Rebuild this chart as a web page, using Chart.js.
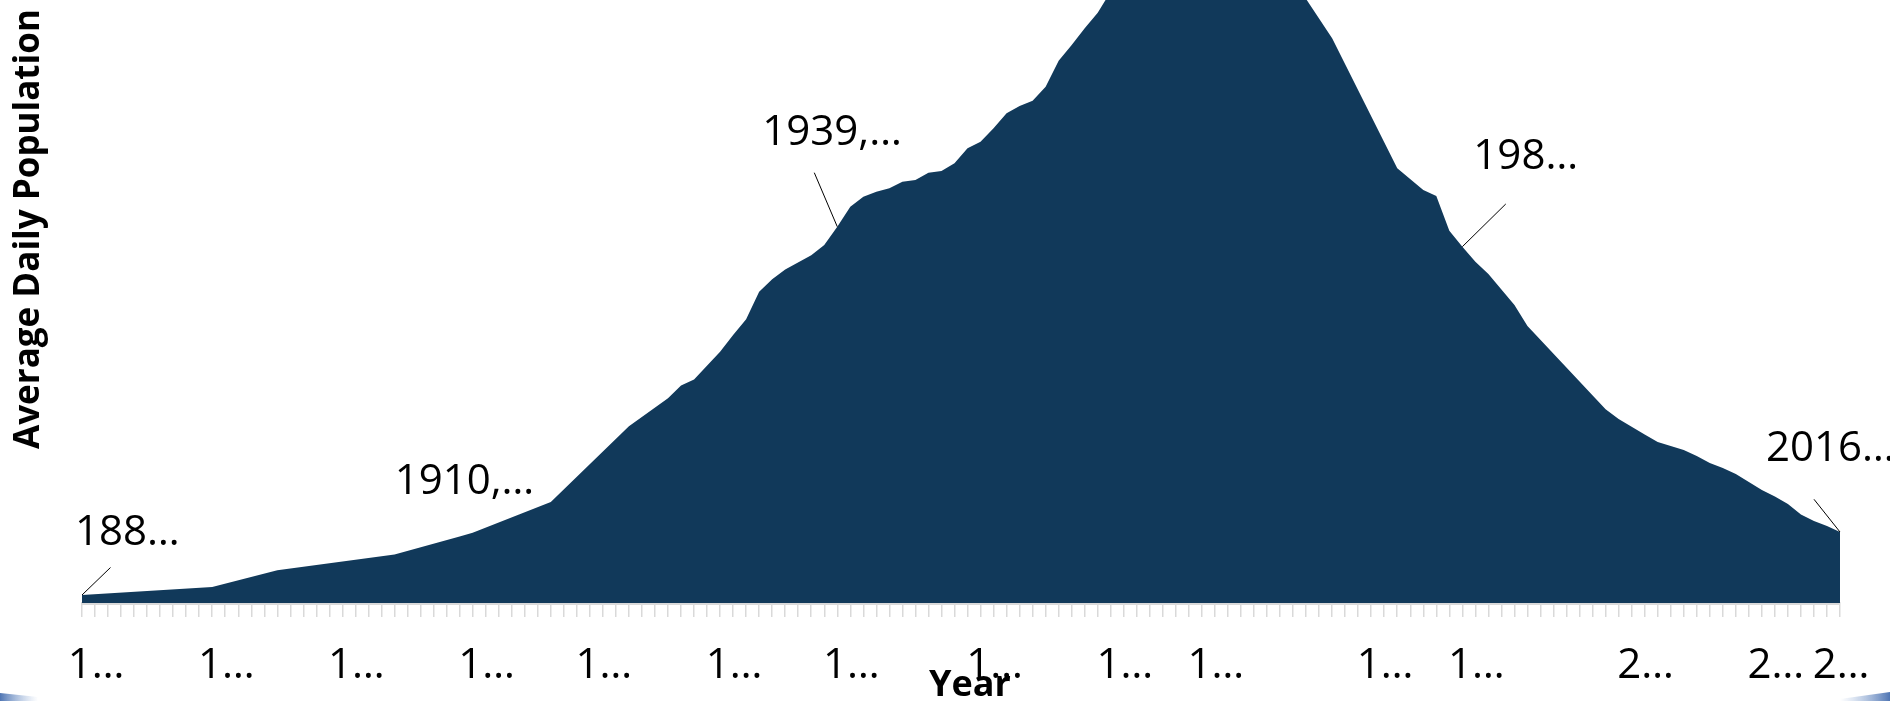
<!DOCTYPE html>
<html><head><meta charset="utf-8">
<script src="https://cdn.jsdelivr.net/npm/chart.js@4.4.1/dist/chart.umd.min.js"></script>
<style>html,body{margin:0;padding:0;background:#fff;overflow:hidden}#wrap{width:1890px;height:701px;position:relative}</style>
</head><body><div id="wrap"><canvas id="c" width="1890" height="701"></canvas></div>
<script>
// ---- categories ----
const firstYear = 1881, lastYear = 2016;
const years = [];
for (let y = firstYear; y <= lastYear; y++) years.push(String(y));

// ---- series values (average daily population), null = no point, line spans the gap ----
const pop1881_1890 = [80,null,null,null,null,null,null,null,null,null];
const pop1891_1900 = [160,null,null,null,null,328,null,null,null,null];
const pop1901_1910 = [null,null,null,null,485,null,null,null,null,666];
const pop1911_1920 = [702,null,null,null,null,null,1010,null,null,null];
const pop1921_1930 = [null,null,1767,null,null,2047,2175,2235,null,2513];
const pop1931_1940 = [2680,2837,3113,3237,3335,null,3478,3580,3763,3963];
const pop1941_1950 = [4063,4113,4147,4213,4230,4303,4320,4397,4547,4613];
const pop1951_1960 = [4747,4897,4970,5023,5163,5423,5580,5747,5903,6115];
const pop1961_1970 = [6250,6380,6480,6560,6620,6660,6680,6690,6670,6620];
const pop1971_1980 = [6540,6430,6300,6160,6040,null,5647,null,null,null];
const pop1981_1990 = [null,4347,null,4130,4070,3723,3563,3413,3290,3134];
const pop1991_2000 = [2980,2770,null,null,null,null,null,1937,1840,1763];
const pop2001_2010 = [1685,1610,1570,1530,1470,1400,1350,1290,1210,1130];
const pop2011_2016 = [1065,990,885,820,770,710];
const population = [].concat(pop1881_1890,pop1891_1900,pop1901_1910,pop1911_1920,pop1921_1930,
  pop1931_1940,pop1941_1950,pop1951_1960,pop1961_1970,pop1971_1980,pop1981_1990,pop1991_2000,
  pop2001_2010,pop2011_2016);

// ---- tick labels shown (indices of categories), truncated as in source ----
const tickLabelIndex = [0,10,20,30,39,49,58,69,79,86,99,106,119,129,134];

// ---- data labels ----
const labelYears = [1881, 1910, 1939, 1987, 2016];
const labelTexts = ['188…', '1910,…', '1939,…', '198…', '2016…'];
// placement of label text / leader end relative to the point (layout only)
const labelLayout = [
  {tx:-7,  ty:-50, lx:28.5, ly:-27.5},
  {tx:-65, ty:-42, lx:null, ly:null},
  {tx:-75, ty:-82, lx:-23, ly:-54},
  {tx:11,  ty:-78, lx:43.4, ly:-42.7},
  {tx:-74, ty:-71, lx:-26, ly:-32.7}
];

const FONT = '"Open Sans", "Noto Sans", sans-serif';
Chart.defaults.font.family = FONT;

const labelPlugin = {
  id: 'pointLabels',
  afterDatasetsDraw(chart) {
    const meta = chart.getDatasetMeta(0);
    const ctx = chart.ctx;
    ctx.save();
    ctx.font = '42px ' + FONT;
    ctx.fillStyle = '#000'; ctx.strokeStyle = '#000'; ctx.lineWidth = 1;
    ctx.textAlign = 'left'; ctx.textBaseline = 'alphabetic';
    labelYears.forEach((yr, k) => {
      const i = years.indexOf(String(yr));
      const pt = meta.data[i];
      const L = labelLayout[k];
      if (L.lx !== null) {
        ctx.beginPath(); ctx.moveTo(pt.x, pt.y); ctx.lineTo(pt.x + L.lx, pt.y + L.ly); ctx.stroke();
      }
      ctx.fillText(labelTexts[k], pt.x + L.tx, pt.y + L.ty);
    });
    ctx.restore();
  }
};

const cornerPlugin = {
  id: 'corners',
  afterDraw(chart) {
    const ctx = chart.ctx, W = chart.width, H = chart.height;
    ctx.save();
    let g = ctx.createLinearGradient(0, 0, 38, 0);
    g.addColorStop(0, 'rgba(70,110,175,0.95)'); g.addColorStop(1, 'rgba(140,170,215,0)');
    ctx.fillStyle = g;
    ctx.beginPath(); ctx.moveTo(0, 693); ctx.lineTo(38, 697); ctx.lineTo(38, H); ctx.lineTo(0, H); ctx.closePath(); ctx.fill();
    g = ctx.createLinearGradient(W - 50, 0, W, 0);
    g.addColorStop(0, 'rgba(140,170,215,0)'); g.addColorStop(1, 'rgba(70,110,175,0.95)');
    ctx.fillStyle = g;
    ctx.beginPath(); ctx.moveTo(W - 50, 699); ctx.lineTo(W, 692); ctx.lineTo(W, H); ctx.lineTo(W - 50, H); ctx.closePath(); ctx.fill();
    ctx.restore();
  }
};

new Chart(document.getElementById('c'), {
  type: 'line',
  data: {
    labels: years,
    datasets: [{
      label: 'Average Daily Population',
      data: population,
      fill: 'origin',
      backgroundColor: '#11395a',
      borderColor: '#11395a',
      borderWidth: 0,
      pointRadius: 0,
      tension: 0,
      spanGaps: true
    }]
  },
  options: {
    responsive: false,
    devicePixelRatio: 1,
    animation: false,
    layout: { padding: { top: 0, right: 50, left: 0, bottom: 0 } },
    plugins: { legend: { display: false }, tooltip: { enabled: false } },
    scales: {
      x: {
        type: 'category',
        offset: false,
        grid: { display: true, drawOnChartArea: false, drawTicks: true, tickLength: 14, color: '#d9d9d9', lineWidth: 1.5 },
        border: { display: true, color: '#d9d9d9', width: 3 },
        ticks: {
          autoSkip: false, maxRotation: 0, minRotation: 0, padding: 24, labelOffset: 14,
          color: '#000', font: { family: FONT, size: 42 },
          callback: (v, i) => tickLabelIndex.includes(i) ? years[i].charAt(0) + '…' : ''
        },
        title: { display: true, text: '\u2002Year', color: '#000', font: { family: FONT, size: 36, weight: 'bold', lineHeight: 1 }, padding: { top: 0, bottom: -3 } },
        afterFit: (s) => { s.height = 98; }
      },
      y: {
        min: 0, max: 6030,
        grid: { display: false },
        border: { display: false },
        ticks: { display: false },
        title: { display: true, text: 'Average Daily Population\u00a0', align: 'end', color: '#000', font: { family: FONT, size: 35, weight: 'bold', lineHeight: 1 }, padding: { top: 12, bottom: 0 } },
        afterFit: (s) => { s.width = 82; }
      }
    }
  },
  plugins: [labelPlugin, cornerPlugin]
});
</script>
</body></html>
